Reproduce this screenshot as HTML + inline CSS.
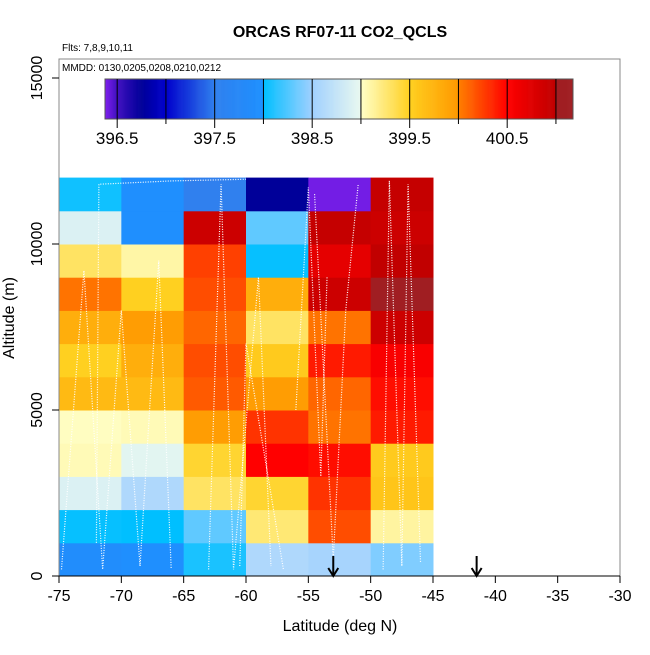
<!DOCTYPE html>
<html><head><meta charset="utf-8"><style>
body{margin:0;background:#fff;}
text{font-family:"Liberation Sans",sans-serif;}
</style></head><body>
<svg id="chart" width="650" height="650" xmlns="http://www.w3.org/2000/svg">
<text x="340" y="37" text-anchor="middle" font-weight="bold" font-size="16">ORCAS RF07-11 CO2_QCLS</text>
<text x="62" y="51" font-size="10">Flts: 7,8,9,10,11</text>
<g id="cells"></g>
<g id="tracks"></g>
<rect x="59" y="59" width="561" height="517" fill="none" stroke="#888" stroke-width="1"/>
<text x="62" y="71" font-size="10">MMDD: 0130,0205,0208,0210,0212</text>
<g id="cbar"></g>
<g id="axes"></g>
<text x="340" y="631" text-anchor="middle" font-size="16">Latitude (deg N)</text>
<text transform="translate(14,318) rotate(-90)" text-anchor="middle" font-size="16">Altitude (m)</text>
</svg>
<script>
const lats=[-75,-70,-65,-60,-55,-50];
const alts=[0,1000,2000,3000,4000,5000,6000,7000,8000,9000,10000,11000];
const row0=[397.9,397.95,398.08,398.6,398.55,398.4];
const row1=[398.02,398.0,398.3,399.25,400.2,399.12];
const row2=[398.9,398.6,399.3,399.45,400.3,399.6];
const row3=[399.05,398.95,399.45,400.5,400.45,399.55];
const row4=[399.02,399.05,399.95,400.3,400.05,400.4];
const row5=[399.7,399.7,400.15,399.95,400.1,400.45];
const row6=[399.5,399.8,400.2,399.55,400.4,400.55];
const row7=[399.8,399.95,400.1,399.3,400.05,400.9];
const row8=[400.05,399.5,400.2,399.8,400.9,401.1];
const row9=[399.3,399.1,400.25,398.02,400.7,400.98];
const row10=[398.9,397.95,400.9,398.3,400.95,400.9];
const row11=[398.05,397.95,397.5,396.75,396.4,400.95];
const values=[row0,row1,row2,row3,row4,row5,row6,row7,row8,row9,row10,row11];
const xTicks=[-75,-70,-65,-60,-55,-50,-45,-40,-35,-30];
const yTicks=[0,5000,10000,15000];
const cbTicks=[396.5,397.5,398.5,399.5,400.5];
const arrowLats=[-53.0,-41.5];

const X=v=>59+(v+75)*561/45;
const Y=v=>576-v*0.0332;
const CB=v=>105+(v-396.375)*97.5;
const CBMAX=401.175;
const stops=[[396.375,"#8020ee"],[396.5,"#4010c0"],[396.75,"#000099"],[397.0,"#0000cc"],[397.5,"#3080ee"],[397.99,"#1e90ff"],[398.0,"#00bfff"],[398.5,"#a0d0ff"],[398.99,"#e8f8f0"],[399.0,"#ffffc8"],[399.5,"#ffd020"],[399.99,"#ff9900"],[400.0,"#ff8000"],[400.5,"#ff0000"],[400.99,"#c00000"],[401.0,"#a01e22"],[401.3,"#a01e22"]];
function hex(c){return [1,3,5].map(i=>parseInt(c.substr(i,2),16));}
function color(v){
  if(v<=stops[0][0])return stops[0][1];
  for(let i=1;i<stops.length;i++){if(v<=stops[i][0]){const a=hex(stops[i-1][1]),b=hex(stops[i][1]);const t=(v-stops[i-1][0])/(stops[i][0]-stops[i-1][0]);return "rgb("+a.map((x,k)=>Math.round(x+(b[k]-x)*t)).join(",")+")";}}
  return stops[stops.length-1][1];
}
const NS="http://www.w3.org/2000/svg";
function mk(tag,attrs,parent){const e=document.createElementNS(NS,tag);for(const k in attrs)e.setAttribute(k,attrs[k]);parent.appendChild(e);return e;}
const cells=document.getElementById('cells');
alts.forEach((a,i)=>lats.forEach((l,j)=>{
  const r=mk('rect',{x:X(l),y:Y(a+1000),width:X(l+5)-X(l)+0.5,height:Y(a)-Y(a+1000)+0.5,fill:color(values[i][j])},cells);
  
  
}));
const tr=document.getElementById('tracks');
const tracks=[[[-74.8,200],[-73,9200],[-71.5,200],[-70,8000],[-68.5,300],[-67,9500],[-66,200]],[[-72,1000],[-71.8,11800],[-66,11900],[-60,11950]],[[-63,200],[-62,11800],[-61,200],[-59,9000],[-58,300]],[[-54.5,11500],[-53,500],[-52,8000],[-51,11800]],[[-49,200],[-48.5,11900],[-47.5,300],[-47,11800],[-46,400]],[[-56,5000],[-55,11700],[-54,3000],[-53.5,9000]],[[-60.5,300],[-60,7000],[-57,200]]];
tracks.forEach(t=>{const p=mk('polyline',{points:t.map(q=>X(q[0])+","+Y(q[1])).join(" "),fill:"none",stroke:"#fff","stroke-width":1.2,"stroke-dasharray":"1 1.5"},tr);
  
  });
const cb=document.getElementById('cbar');
for(let v=396.375;v<CBMAX;v+=0.01){const w=Math.min(1.3,CB(CBMAX)-CB(v));mk('rect',{x:CB(v),y:79,width:w,height:40,fill:color(v+0.005)},cb);}
mk('rect',{x:105,y:79,width:CB(CBMAX)-105,height:40,fill:"none",stroke:"#555"},cb);
for(let v=396.5;v<401.1;v+=0.5){mk('line',{x1:CB(v),x2:CB(v),y1:79,y2:v*2%2==1?128:124,stroke:"#000","stroke-width":1},cb);}
cbTicks.forEach(v=>{const t=mk('text',{x:CB(v),y:144,"text-anchor":"middle","font-size":17},cb);t.textContent=v.toFixed(1);
  
  });
const ax=document.getElementById('axes');
mk('line',{x1:59,x2:620,y1:576,y2:576,stroke:"#000"},ax);
xTicks.forEach(v=>{mk('line',{x1:X(v),x2:X(v),y1:576,y2:583,stroke:"#000"},ax);
  const t=mk('text',{x:X(v),y:601,"text-anchor":"middle","font-size":16},ax);t.textContent=v;
  
  });
yTicks.forEach(v=>{mk('line',{x1:52,x2:59,y1:Y(v),y2:Y(v),stroke:"#000"},ax);
  const t=mk('text',{transform:"translate(42,"+Y(v)+") rotate(-90)","text-anchor":"middle","font-size":16},ax);t.textContent=v;
  
  });
arrowLats.forEach(l=>{const g=mk('g',{},ax);
  
  
  mk('line',{x1:X(l),x2:X(l),y1:556,y2:576,stroke:"#000","stroke-width":2},g);
  mk('polyline',{points:(X(l)-5)+",568 "+X(l)+",576 "+(X(l)+5)+",568",fill:"none",stroke:"#000","stroke-width":2},g);});
</script>
</body></html>
